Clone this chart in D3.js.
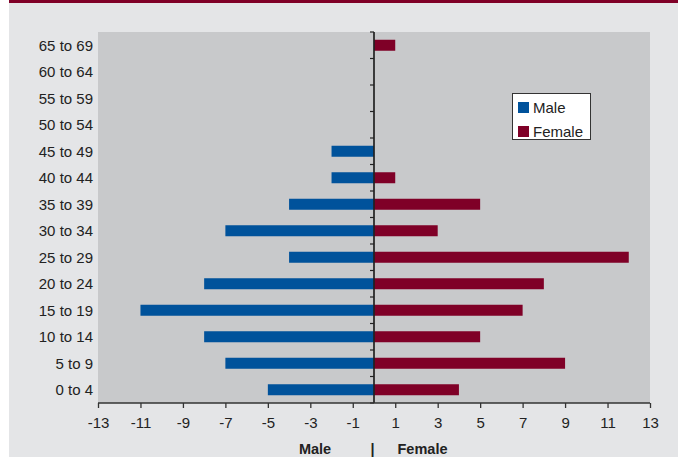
<!DOCTYPE html>
<html><head><meta charset="utf-8">
<script src="https://cdn.jsdelivr.net/npm/d3@7"></script>
<style>html,body{margin:0;padding:0;background:#fff;}svg{display:block;}</style>
</head><body>
<script>
const categories = ["65 to 69","60 to 64","55 to 59","50 to 54","45 to 49","40 to 44","35 to 39","30 to 34","25 to 29","20 to 24","15 to 19","10 to 14","5 to 9","0 to 4"];
const maleValues =   [0, 0, 0, 0, -2, -2, -4, -7, -4, -8, -11, -8, -7, -5];
const femaleValues = [1, 0, 0, 0, 0, 1, 5, 3, 12, 8, 7, 5, 9, 4];
const xTicks = [-13,-11,-9,-7,-5,-3,-1,1,3,5,7,9,11,13];
const seriesNames = ["Male","Female"];

const W = 678, H = 457;
const colors = {Male:"#00529b", Female:"#7f0027"};
const font = "'Liberation Sans', Arial, sans-serif";

const svg = d3.select("body").append("svg").attr("width", W).attr("height", H)
  .style("font-family", font);

svg.append("rect").attr("x",0).attr("y",0).attr("width",W).attr("height",H).attr("fill","#ffffff");
svg.append("rect").attr("x",9).attr("y",0).attr("width",W-9).attr("height",H).attr("fill","#e4e5e7");
svg.append("rect").attr("x",9).attr("y",0).attr("width",W-9).attr("height",3).attr("fill","#7f0027");

const plot = {left:98, right:650, top:32, bottom:403};
const x = d3.scaleLinear().domain([-13,13]).range([plot.left, plot.right]);
const y = d3.scaleBand().domain(categories).range([plot.top, plot.bottom]).paddingInner(0.585).paddingOuter(0.2925);

svg.append("rect").attr("x",plot.left).attr("y",plot.top)
  .attr("width",plot.right-plot.left).attr("height",plot.bottom-plot.top).attr("fill","#c8c9cb");

// bars
const rows = categories.map((c,i)=>({c, m:maleValues[i], f:femaleValues[i]}));
svg.append("g").selectAll("rect").data(rows).join("rect")
  .attr("x", d=>x(Math.min(0,d.m))).attr("y", d=>y(d.c))
  .attr("width", d=>Math.abs(x(d.m)-x(0))).attr("height", y.bandwidth())
  .attr("fill", colors.Male);
svg.append("g").selectAll("rect").data(rows).join("rect")
  .attr("x", x(0)).attr("y", d=>y(d.c))
  .attr("width", d=>Math.abs(x(d.f)-x(0))).attr("height", y.bandwidth())
  .attr("fill", colors.Female);

// zero axis with ticks at band boundaries
const step = y.step();
const zeroG = svg.append("g");
zeroG.append("line").attr("x1",x(0)).attr("x2",x(0)).attr("y1",plot.top).attr("y2",plot.bottom)
  .attr("stroke","#222").attr("stroke-width",1.7);
d3.range(categories.length+1).forEach(i=>{
  const yy = plot.top + i*step;
  zeroG.append("line").attr("x1",x(0)-4).attr("x2",x(0)).attr("y1",yy).attr("y2",yy)
    .attr("stroke","#222").attr("stroke-width",1.2);
});

// category labels
svg.append("g").selectAll("text").data(categories).join("text")
  .attr("x", plot.left-5).attr("y", d=>y(d)+y.bandwidth()/2).attr("dy","0.36em")
  .attr("text-anchor","end").attr("font-size","15px").attr("fill","#222").text(d=>d);

// x axis
const xAxis = d3.axisBottom(x).tickValues(xTicks).tickSize(5).tickPadding(9.4).tickFormat(d=>String(d));
const xg = svg.append("g").attr("transform",`translate(0,${plot.bottom})`).call(xAxis);
xg.select(".domain").attr("stroke","#333").attr("stroke-width",1.7).attr("d",`M${plot.left},0H${plot.right}`);
xg.selectAll(".tick line").attr("stroke","#333").attr("stroke-width",1.3);
xg.selectAll(".tick text").attr("font-size","15px").attr("fill","#222").attr("font-family",font);

// axis title
svg.append("text").attr("x",315).attr("y",454).attr("text-anchor","middle")
  .attr("font-weight","bold").attr("font-size","14.5px").attr("fill","#222").text("Male");
svg.append("text").attr("x",372.5).attr("y",454).attr("text-anchor","middle")
  .attr("font-weight","bold").attr("font-size","14.5px").attr("fill","#222").text("|");
svg.append("text").attr("x",422.5).attr("y",454).attr("text-anchor","middle")
  .attr("font-weight","bold").attr("font-size","14.5px").attr("fill","#222").text("Female");

// legend
const lg = svg.append("g");
lg.append("rect").attr("x",512.5).attr("y",93.5).attr("width",78).attr("height",46)
  .attr("fill","#fff").attr("stroke","#333").attr("stroke-width",1);
seriesNames.forEach((s,i)=>{
  const yy = 102 + i*24;
  lg.append("rect").attr("x",518).attr("y",yy).attr("width",11).attr("height",11).attr("fill",colors[s]);
  lg.append("text").attr("x",533).attr("y",yy+5.5).attr("dy","0.36em")
    .attr("font-size","15px").attr("fill","#222").text(s);
});
</script>
</body></html>
